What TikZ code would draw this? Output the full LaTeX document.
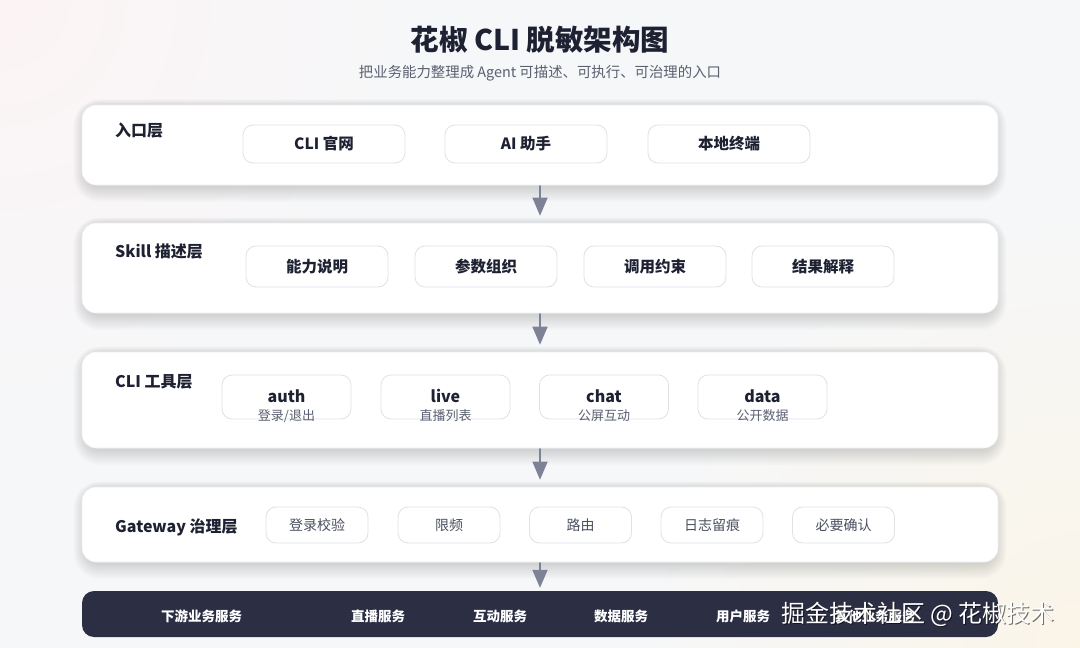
\documentclass[tikz,border=0pt]{standalone}
\usepackage{fontspec}
\setmainfont{Noto Sans CJK SC}
\usetikzlibrary{arrows.meta}
\definecolor{bgbase}{HTML}{F6F7F9}
\definecolor{bgpink}{HTML}{FCF4F4}
\definecolor{bgcream}{HTML}{FBF5E8}
\definecolor{ink}{HTML}{1E2132}
\definecolor{subink}{HTML}{5B6070}
\definecolor{chipline}{HTML}{DFE1E6}
\definecolor{layerline}{HTML}{EEEFF2}
\definecolor{arrowc}{HTML}{7D8296}
\definecolor{barc}{HTML}{2C2E43}
\definecolor{gwink}{HTML}{4B5060}
\definecolor{shadowc}{HTML}{5A6070}
\pgfdeclarelayer{bgl}
\pgfdeclarelayer{shl}
\pgfsetlayers{bgl,shl,main}
\tikzset{
  layerbox/.style={draw=layerline, fill=white, rounded corners=14pt, line width=0.6pt},
  layerlabel/.style={anchor=west, inner sep=0pt, text=ink, font=\bfseries\fontsize{16}{19}\selectfont},
  chip/.style={draw=chipline, fill=white, rounded corners=10pt, line width=0.8pt, inner sep=0pt,
    text=ink, font=\bfseries\fontsize{15.5}{18}\selectfont},
  gwchip/.style={chip, text=gwink, font=\fontsize{14}{17}\selectfont},
  tooltxt/.style={inner sep=0pt, text=ink, font=\bfseries\fontsize{16}{19}\selectfont},
  toolsub/.style={inner sep=0pt, text=subink, font=\fontsize{13}{15}\selectfont},
  bartxt/.style={inner sep=0pt, text=white, font=\bfseries\fontsize{13.5}{16}\selectfont},
  conn/.style={draw=arrowc, line width=1.5pt, -{Triangle[length=18pt,width=15pt]}},
  shadowpiece/.style={fill=shadowc, opacity=0.018},
}
\newcommand{\softshadow}[1]{%
  \begin{pgfonlayer}{shl}
  \foreach \i in {1,...,12}{
    \fill[shadowpiece, rounded corners=14pt+\i pt]
      ([xshift=-\i pt+4pt, yshift=\i pt*0.6-2pt]#1.north west) rectangle
      ([xshift=\i pt-4pt, yshift=-\i pt*1.3-1pt]#1.south east);
  }
  \end{pgfonlayer}}
\begin{document}
\begin{tikzpicture}[x=1pt,y=-1pt]
\useasboundingbox (0,0) rectangle (1080,648);
\begin{pgfonlayer}{bgl}
\begin{scope}
\clip (0,0) rectangle (1080,648);
\fill[bgbase] (0,0) rectangle (1080,648);
\shade[inner color=bgpink, outer color=bgbase] (0,0) circle (420);
\shade[inner color=bgcream, outer color=bgbase] (1080,648) circle (460);
\end{scope}
\end{pgfonlayer}

% title
\node[inner sep=0pt, text=ink, font=\bfseries\fontsize{28.5}{32}\selectfont] (title) at (540,40) {花椒 CLI 脱敏架构图};
\node[inner sep=0pt, text=subink, font=\fontsize{14.4}{17}\selectfont] (subtitle) at (540,73) {把业务能力整理成 Agent 可描述、可执行、可治理的入口};

% layers
\node[layerbox, minimum width=916, minimum height=80] (L1) at (540,145) {};
\node[layerbox, minimum width=916, minimum height=90] (L2) at (540,268) {};
\node[layerbox, minimum width=916, minimum height=96] (L3) at (540,400) {};
\node[layerbox, minimum width=916, minimum height=75] (L4) at (540,524.5) {};
\node[draw=none, fill=barc, rounded corners=12pt, minimum width=916, minimum height=46] (L5) at (540,614) {};
\softshadow{L1}
\softshadow{L2}
\softshadow{L3}
\softshadow{L4}

% connectors
\begin{pgfonlayer}{shl}
\draw[conn, shorten >=7pt] (L1.south) -- (L2.north);
\draw[conn, shorten >=7pt] (L2.south) -- (L3.north);
\draw[conn, shorten >=7pt] (L3.south) -- (L4.north);
\draw[conn, shorten >=3pt] (L4.south) -- (L5.north);
\end{pgfonlayer}

% layer 1
\node[layerlabel] (l1lab) at (115,130) {入口层};
\node[chip, minimum width=162, minimum height=38] (e1) at (324,144) {CLI 官网};
\node[chip, minimum width=162, minimum height=38] (e2) at (526,144) {AI 助手};
\node[chip, minimum width=162, minimum height=38] (e3) at (729,144) {本地终端};

% layer 2
\node[layerlabel] (l2lab) at (115,252) {Skill 描述层};
\node[chip, minimum width=142, minimum height=41] (s1) at (317,266.5) {能力说明};
\node[chip, minimum width=142, minimum height=41] (s2) at (486,266.5) {参数组织};
\node[chip, minimum width=142, minimum height=41] (s3) at (655,266.5) {调用约束};
\node[chip, minimum width=142, minimum height=41] (s4) at (823,266.5) {结果解释};

% layer 3
\node[layerlabel] (l3lab) at (115,382) {CLI 工具层};
\node[chip, minimum width=129, minimum height=44] (t1) at (286.5,397) {};
\node[chip, minimum width=129, minimum height=44] (t2) at (445.5,397) {};
\node[chip, minimum width=129, minimum height=44] (t3) at (604,397) {};
\node[chip, minimum width=129, minimum height=44] (t4) at (762.5,397) {};
\node[tooltxt] (t1a) at (286.5,396) {auth};
\node[toolsub] (t1b) at (286.5,416) {登录/退出};
\node[tooltxt] (t2a) at (445.5,396) {live};
\node[toolsub] (t2b) at (445.5,416) {直播列表};
\node[tooltxt] (t3a) at (604,396) {chat};
\node[toolsub] (t3b) at (604,416) {公屏互动};
\node[tooltxt] (t4a) at (762.5,396) {data};
\node[toolsub] (t4b) at (762.5,416) {公开数据};

% layer 4
\node[layerlabel] (l4lab) at (115,527) {Gateway 治理层};
\node[gwchip, minimum width=102, minimum height=36] (g1) at (317,525) {登录校验};
\node[gwchip, minimum width=102, minimum height=36] (g2) at (449,525) {限频};
\node[gwchip, minimum width=102, minimum height=36] (g3) at (580.5,525) {路由};
\node[gwchip, minimum width=102, minimum height=36] (g4) at (712,525) {日志留痕};
\node[gwchip, minimum width=102, minimum height=36] (g5) at (843.5,525) {必要确认};

% bottom bar
\node[bartxt] (b0) at (201.5,616) {下游业务服务};
\node[bartxt] (b1) at (378,616) {直播服务};
\node[bartxt] (b2) at (500,616) {互动服务};
\node[bartxt] (b3) at (621,616) {数据服务};
\node[bartxt] (b4) at (743,616) {用户服务};
\node[bartxt] (b5) at (875,616) {其他业务服务};

% watermark
\node[inner sep=0pt, text=black, opacity=0.55, font=\fontsize{24}{28}\selectfont] (wmshadow) at (919.2,615.4) {掘金技术社区 @ 花椒技术};
\node[inner sep=0pt, text=white, font=\fontsize{24}{28}\selectfont] (wm) at (918,614) {掘金技术社区 @ 花椒技术};
\end{tikzpicture}
\end{document}
